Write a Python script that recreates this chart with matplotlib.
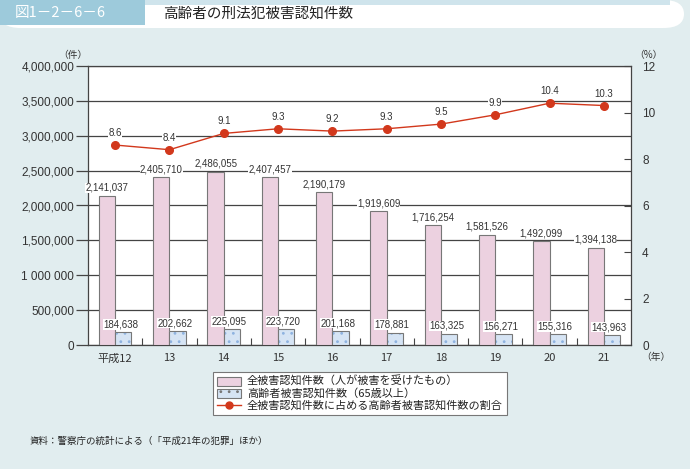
import matplotlib
matplotlib.use("Agg")
import matplotlib.pyplot as plt
import numpy as np
from matplotlib.patches import Rectangle, FancyBboxPatch, Patch
from matplotlib.lines import Line2D

plt.rcParams['font.family'] = ['Liberation Sans', 'Noto Sans CJK JP', 'DejaVu Sans']
JP = ['Noto Sans CJK JP', 'DejaVu Sans']

# data
years = ['平成12', '13', '14', '15', '16', '17', '18', '19', '20', '21']
total = [2141037, 2405710, 2486055, 2407457, 2190179, 1919609, 1716254, 1581526, 1492099, 1394138]
elderly = [184638, 202662, 225095, 223720, 201168, 178881, 163325, 156271, 155316, 143963]
ratio = [8.6, 8.4, 9.1, 9.3, 9.2, 9.3, 9.5, 9.9, 10.4, 10.3]

W, H = 690, 469
bg = '#e1edef'
pink = '#ecd1e0'
blue = '#d6e4f4'
red = '#d2381c'
edge = '#777777'
txt = '#333333'

fig = plt.figure(figsize=(W / 100, H / 100), dpi=100, facecolor=bg)

# title banner
fig.patches.append(FancyBboxPatch((0, 1 - 28 / H), 684 / W, 28 / H,
                                  boxstyle='round,pad=0,rounding_size=0.03',
                                  transform=fig.transFigure, facecolor='white',
                                  edgecolor='none', zorder=0))
fig.patches.append(Rectangle((0, 1 - 5 / H), 670 / W, 5 / H, transform=fig.transFigure,
                             facecolor='#cfe4ec', edgecolor='none', zorder=0))
fig.patches.append(Rectangle((0, 1 - 25 / H), 145 / W, 25 / H, transform=fig.transFigure,
                             facecolor='#9dcadb', edgecolor='none', zorder=1))
fig.text(15 / W, 1 - 13 / H, '図1－2－6－6', color='white', fontsize=10.5,
         family=JP, va='center', ha='left')
fig.text(163 / W, 1 - 14 / H, '高齢者の刑法犯被害認知件数', color='#222222', fontsize=10.5,
         family=JP, va='center', ha='left')

ax = fig.add_axes([88 / W, 1 - 345 / H, (631 - 88) / W, (345 - 66) / H])
ax.set_facecolor('white')
x = np.arange(len(years))
bw = 0.3

ax.bar(x - bw / 2, total, bw, color=pink, edgecolor=edge, linewidth=0.8, zorder=3)
plt.rcParams['hatch.color'] = '#8fb3e0'
plt.rcParams['hatch.linewidth'] = 0.8
ax.bar(x + bw / 2, elderly, bw, color=blue, edgecolor='#8fb3e0', linewidth=0, hatch='..', zorder=3)
ax.bar(x + bw / 2, elderly, bw, fill=False, edgecolor=edge, linewidth=0.8, zorder=3)

for xi, v in zip(x, total):
    ax.text(xi - bw / 2, v + 40000, f'{v:,}', ha='center', va='bottom', fontsize=7,
            color=txt, zorder=4, bbox=dict(facecolor='white', edgecolor='none', pad=0.2))
for xi, v in zip(x, elderly):
    ax.text(xi + bw / 2 - 0.05, v + 40000, f'{v:,}', ha='center', va='bottom', fontsize=7,
            color=txt, zorder=4, bbox=dict(facecolor='white', edgecolor='none', pad=0.2))

ax.set_xlim(-0.5, len(years) - 0.5)
ax.set_ylim(0, 4000000)
ax.set_yticks(np.arange(0, 4000001, 500000))
ylabels = [f'{int(v):,}' for v in np.arange(0, 4000001, 500000)]
ylabels[0] = '0'
ylabels[2] = '1 000 000'
ax.set_yticklabels(ylabels)
ax.grid(axis='y', color='#444444', linewidth=0.9, zorder=1)
ax.set_axisbelow(True)
ax.tick_params(axis='y', direction='out', length=9, width=0.9, color='#444444',
               labelsize=8.5, labelcolor=txt, pad=1)
ax.set_xticks(x)
ax.set_xticklabels(years, fontsize=8, color=txt, family=JP)
ax.tick_params(axis='x', length=0, pad=6)
ax.set_xticks(np.arange(0.5, len(years) - 1, 1), minor=True)
ax.tick_params(axis='x', which='minor', direction='in', length=5, width=0.8, color='#444444')
for s in ax.spines.values():
    s.set_color('#444444')
    s.set_linewidth(0.9)

ax2 = ax.twinx()
ax2.plot(x, ratio, color=red, linewidth=1, marker='o', markersize=5.5, zorder=5)
for xi, v in zip(x, ratio):
    ax2.text(xi, v + 0.3, f'{v}', ha='center', va='bottom', fontsize=7, color=txt,
             bbox=dict(facecolor='white', edgecolor='none', pad=0.2))
ax2.set_ylim(0, 12)
ax2.set_yticks(np.arange(0, 13, 2))
ax2.tick_params(axis='y', direction='in', length=5, width=0.8, color='#444444',
                labelsize=8.5, labelcolor=txt, pad=8)
for s in ax2.spines.values():
    s.set_visible(False)

fig.text(73 / W, 1 - 55 / H, '（件）', fontsize=7, family=JP, ha='center', va='center', color=txt)
fig.text(648 / W, 1 - 55 / H, '（%）', fontsize=7, family=JP, ha='center', va='center', color=txt)
fig.text(641 / W, 1 - 357 / H, '（年）', fontsize=7, family=JP, ha='left', va='center', color=txt)

handles = [Patch(facecolor=pink, edgecolor=edge, linewidth=0.8),
           Patch(facecolor=blue, edgecolor=edge, linewidth=0.8, hatch='..'),
           Line2D([], [], color=red, linewidth=1, marker='o', markersize=5)]
labels = ['全被害認知件数（人が被害を受けたもの）', '高齢者被害認知件数（65歳以上）',
          '全被害認知件数に占める高齢者被害認知件数の割合']
leg = fig.legend(handles, labels, loc='upper left', bbox_to_anchor=(213 / W, 1 - 372 / H),
                 prop={'family': JP, 'size': 8}, frameon=True, fancybox=False,
                 edgecolor='#777777', framealpha=1, borderaxespad=0, handlelength=2.2,
                 handleheight=0.85, labelspacing=0.12, borderpad=0.35, handletextpad=0.5)
leg.get_frame().set_linewidth(0.8)
for t in leg.get_texts():
    t.set_color('#222222')

fig.text(30 / W, 1 - 441 / H, '資料：警察庁の統計による（「平成21年の犯罪」ほか）', fontsize=6.8,
         family=JP, ha='left', va='center', color='#222222')

fig.savefig('out.png', dpi=100, facecolor=bg)
